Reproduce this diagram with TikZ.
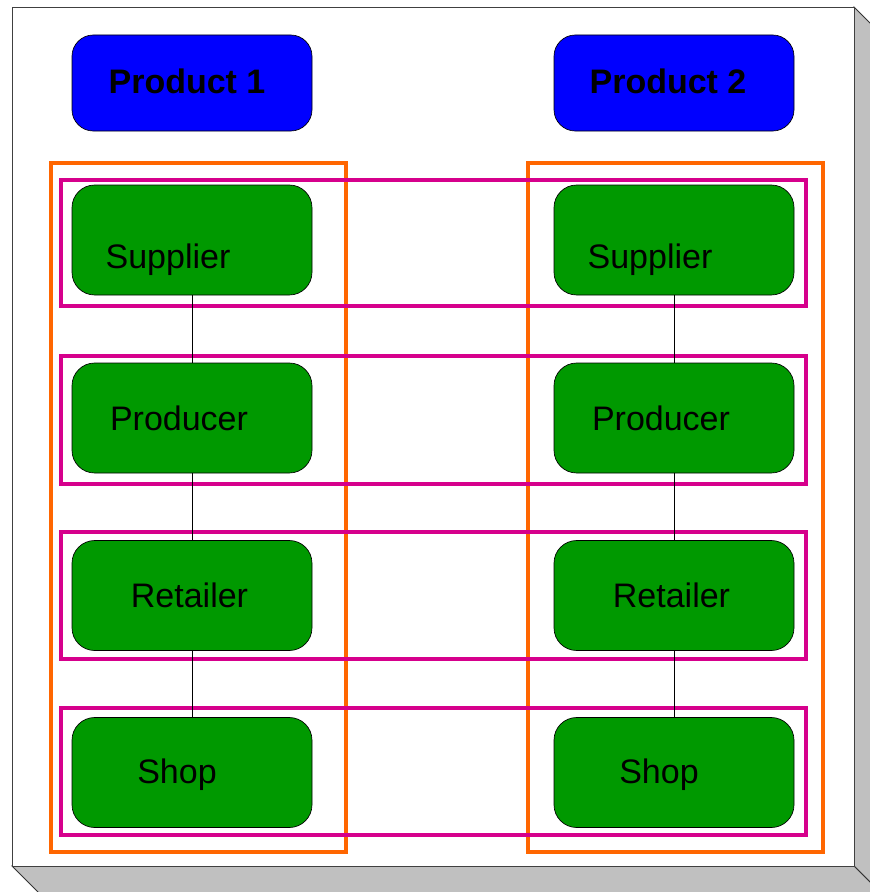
\documentclass[tikz,border=0pt]{standalone}
\usepackage{fontspec}
\setmainfont{Liberation Sans}
\usetikzlibrary{calc}
\definecolor{pblue}{RGB}{0,0,255}
\definecolor{sgreen}{RGB}{0,153,0}
\definecolor{borange}{RGB}{255,102,0}
\definecolor{rmag}{RGB}{214,0,140}
\definecolor{shade}{RGB}{192,192,192}
\begin{document}
\begin{tikzpicture}[x=0.75pt,y=-0.75pt,
  prod/.style={draw=black, line width=0.5pt, fill=pblue, rounded corners=16pt, minimum width=180pt, minimum height=72pt, inner sep=0pt},
  stage/.style={draw=black, line width=0.5pt, fill=sgreen, rounded corners=17pt, minimum width=180pt, minimum height=82.5pt, inner sep=0pt},
  lbl/.style={font=\fontsize{25.5}{30}\selectfont, inner sep=0pt, anchor=base},
  blbl/.style={inner sep=0pt, anchor=base, font=\fontsize{25.5}{30}\selectfont\bfseries},
  column/.style={draw=borange, line width=3pt},
  tier/.style={draw=rmag, line width=3pt},
  link/.style={draw=black, line width=0.5pt},
  face/.style={fill=white, draw=black!75, line width=0.6pt},
  side/.style={fill=shade, draw=black!80, line width=0.6pt}]
\useasboundingbox (0,0) rectangle (870,892);
\clip (0,0) rectangle (870,892);
% 3D panel
\draw[side] (854,7) -- (900,53) -- (900,912) -- (854,866) -- cycle;
\draw[side] (12,866) -- (58,912) -- (900,912) -- (854,866) -- cycle;
\draw[face] (12,7) rectangle (854,866);
% product columns
\draw[column] (51,163) rectangle (345.5,852);
\draw[column] (528,163) rectangle (823,852);
% tiers
\draw[tier] (60.5,179.5) rectangle (805.5,305.5);
\draw[tier] (60.5,355.5) rectangle (805.5,483.5);
\draw[tier] (60.5,531.5) rectangle (805.5,659);
\draw[tier] (60.5,707.5) rectangle (805.5,834.5);
% product headers
\node[prod] (prod1) at (192,83) {};
\node[prod] (prod2) at (674,83) {};
\node[blbl] (tprod1) at ($(prod1.center)+(-5,10.5)$) {Product 1};
\node[blbl] (tprod2) at ($(prod2.center)+(-6,10.5)$) {Product 2};
% stages
\foreach \c/\x in {1/192,2/674}{
  \node[stage] (sup\c) at (\x,240) {};
  \node[stage] (pro\c) at (\x,418) {};
  \node[stage] (ret\c) at (\x,595.5) {};
  \node[stage] (shp\c) at (\x,772.5) {};
  \node[lbl] (tsup\c) at ($(sup\c.center)+(-24,28)$) {Supplier};
  \node[lbl] (tpro\c) at ($(pro\c.center)+(-13,12)$) {Producer};
  \node[lbl] (tret\c) at ($(ret\c.center)+(-2.5,11.5)$) {Retailer};
  \node[lbl] (tshp\c) at ($(shp\c.center)+(-15,10.5)$) {Shop};
  \draw[link] (sup\c.south) -- (pro\c.north);
  \draw[link] (pro\c.south) -- (ret\c.north);
  \draw[link] (ret\c.south) -- (shp\c.north);
}
\end{tikzpicture}
\end{document}
